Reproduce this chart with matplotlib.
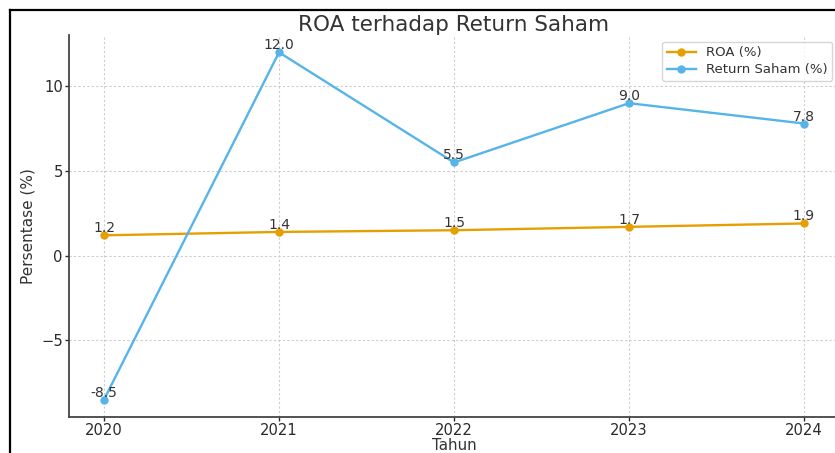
import matplotlib
matplotlib.use("Agg")
import matplotlib.pyplot as plt
from matplotlib.lines import Line2D

years = [2020, 2021, 2022, 2023, 2024]
roa = [1.2, 1.4, 1.5, 1.7, 1.9]
return_saham = [-8.5, 12.0, 5.5, 9.0, 7.8]
series_labels = ["ROA (%)", "Return Saham (%)"]
yticks = [-5, 0, 5, 10]

TEXT = "#333333"
plt.rcParams["font.family"] = ["DejaVu Sans"]

fig = plt.figure(figsize=(8.35, 4.53), dpi=100)
ax = fig.add_axes([69 / 835, 36 / 453, 770 / 835, 382 / 453])

ax.plot(years, roa, marker="o", color="#E69F00", lw=1.7, ms=5, label=series_labels[0], zorder=3)
ax.plot(years, return_saham, marker="o", color="#56B4E9", lw=1.7, ms=5, label=series_labels[1], zorder=3)

for x, y in zip(years, roa):
    ax.annotate(f"{y:.1f}", (x, y), xytext=(0, 0), textcoords="offset points",
                ha="center", va="bottom", fontsize=10, color=TEXT, zorder=4)
for x, y in zip(years, return_saham):
    ax.annotate(f"{y:.1f}", (x, y), xytext=(0, 0), textcoords="offset points",
                ha="center", va="bottom", fontsize=10, color=TEXT, zorder=4)

ax.set_xticks(years)
ax.set_xticklabels([str(y) for y in years])
ax.set_yticks(yticks)
ax.margins(x=0.05, y=0.05)

for s in ["top", "right"]:
    ax.spines[s].set_visible(False)
for s in ["left", "bottom"]:
    ax.spines[s].set_color("#444444")
    ax.spines[s].set_linewidth(1.3)

ax.tick_params(axis="both", labelsize=10.6, colors="#2a2a2a", length=3, width=1, pad=1.5)
ax.grid(True, linestyle=(0, (2, 2)), color="#cccccc", lw=0.8)
ax.set_axisbelow(True)

ax.set_title("ROA terhadap Return Saham", fontsize=15.5, color=TEXT, pad=3)
ax.set_xlabel("Tahun", fontsize=10.8, color=TEXT, labelpad=-0.5)
ax.set_ylabel("Persentase (%)", fontsize=11, color=TEXT, labelpad=4)

leg = ax.legend(loc="upper right", fontsize=9.5, frameon=True, fancybox=True,
                borderaxespad=0.5, handlelength=2.2, labelspacing=0.3, borderpad=0.35)
leg.get_frame().set_edgecolor("#cccccc")
for t in leg.get_texts():
    t.set_color(TEXT)

# black frame lines of the screenshot (top and left)
fig.add_artist(Line2D([10 / 835, 1], [1 - 10 / 453, 1 - 10 / 453], color="black", lw=1.6, transform=fig.transFigure))
fig.add_artist(Line2D([10 / 835, 10 / 835], [0, 1 - 10 / 453], color="black", lw=1.6, transform=fig.transFigure))

fig.savefig("out.png", dpi=100)
